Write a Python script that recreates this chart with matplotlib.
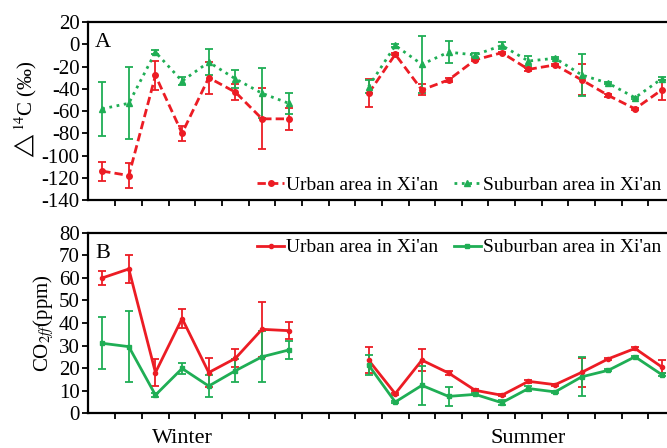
import numpy as np
import matplotlib
matplotlib.use('Agg')
import matplotlib.pyplot as plt
from matplotlib.ticker import FixedLocator
from matplotlib.lines import Line2D

# -------------------- Font settings ---------------------
plt.rcParams['font.family'] = ['Liberation Serif', 'DejaVu Serif']
plt.rcParams['mathtext.fontset'] = 'stix'
plt.rcParams['axes.unicode_minus'] = False

# ================= Data =================
# sample index: 8 winter samples, 12 summer samples
x_winter = np.arange(0, 8)
x_summer = np.arange(10, 22)

# Panel A: delta 14C (permil)
d14c_urban_w = [-114, -118, -28, -80, -30, -43, -67, -67]
d14c_urban_w_err = [8.5, 11, 13, 6.5, 14.5, 7, 27.5, 10]
d14c_sub_w = [-58, -53, -7, -33, -16, -31, -44, -53]
d14c_sub_w_err = [24, 32.5, 1.5, 4, 12, 8, 22.5, 9.5]

d14c_urban_s = [-44, -9, -41, -32, -14, -7.5, -22.5, -18.5, -32, -46, -58, -41]
d14c_urban_s_err = [12.5, 1, 5, 2, 1, 1, 1.5, 1, 14, 1, 1, 9]
d14c_sub_s = [-38, -1, -18, -7, -9.5, -1, -15, -12.5, -27.5, -35, -48, -31]
d14c_sub_s_err = [5.5, 1, 25.5, 10, 1.5, 3.5, 4.5, 1, 19, 1, 1, 1.5]

# Panel B: CO2ff (ppm)
co2_urban_w = [60, 64, 18, 42, 18, 24.3, 37.2, 36.6]
co2_urban_w_err = [3, 6.2, 6, 4.3, 6.5, 4, 12.3, 3.7]
co2_sub_w = [31, 29.5, 8, 19.8, 12, 18.8, 25, 28]
co2_sub_w_err = [11.5, 15.7, 1, 2.4, 5, 5, 11.3, 4.2]

co2_urban_s = [23.5, 8.6, 23.5, 17.8, 10.1, 7.9, 14.1, 12.6, 18.1, 24.1, 28.7, 20.5]
co2_urban_s_err = [5.8, 0.5, 4.8, 1, 0.5, 0.5, 0.7, 0.5, 6.5, 0.5, 0.5, 2.9]
co2_sub_s = [21.3, 4.9, 12.3, 7.4, 8.3, 4.6, 10.9, 9.4, 16.1, 19, 25, 17.1]
co2_sub_s_err = [4.5, 0.5, 8.6, 4.1, 0.5, 1, 1, 0.5, 8.6, 0.5, 0.5, 0.8]

labels = ["Urban area in Xi'an", "Suburban area in Xi'an"]
red = '#ec1c24'
green = '#1fae55'
dash = (0, (3, 1.5))

# ================= Plotting ====================
fig = plt.figure(figsize=(6.67, 4.48), dpi=100)
axA = fig.add_axes([0.132, 0.5536, 0.868, 0.397])
axB = fig.add_axes([0.132, 0.078, 0.868, 0.402])


def draw(ax, xs, y, e, color, ls, marker, ms):
    ax.errorbar(xs, y, yerr=e, color=color, ls=ls, lw=2, marker=marker,
                ms=ms, capsize=3, elinewidth=1.3, capthick=1.3)


def add_legend(ax, styles, loc):
    handles = [Line2D([], [], color=c, ls=ls, lw=2, marker=m, ms=ms)
               for c, ls, m, ms in styles]
    ax.legend(handles, labels, loc=loc, ncol=2, frameon=False, fontsize=14,
              handlelength=1.4, handletextpad=0.1, columnspacing=0.8,
              borderaxespad=0.1, borderpad=0.2)


# Panel A
draw(axA, x_winter, d14c_urban_w, d14c_urban_w_err, red, dash, 'o', 4)
draw(axA, x_winter, d14c_sub_w, d14c_sub_w_err, green, ':', '^', 4)
draw(axA, x_summer, d14c_urban_s, d14c_urban_s_err, red, dash, 'o', 4)
draw(axA, x_summer, d14c_sub_s, d14c_sub_s_err, green, ':', '^', 4)
axA.set_ylim(-140, 20)
axA.set_yticks(np.arange(-140, 21, 20))
axA.set_ylabel('$\\triangle^{14}$C (\u2030)', fontsize=15, labelpad=2)
add_legend(axA, [(red, dash, 'o', 4), (green, ':', '^', 4)], 'lower right')

# Panel B
draw(axB, x_winter, co2_urban_w, co2_urban_w_err, red, '-', 'o', 3)
draw(axB, x_winter, co2_sub_w, co2_sub_w_err, green, '-', 's', 3)
draw(axB, x_summer, co2_urban_s, co2_urban_s_err, red, '-', 'o', 3)
draw(axB, x_summer, co2_sub_s, co2_sub_s_err, green, '-', 's', 3)
axB.set_ylim(0, 80)
axB.set_yticks(np.arange(0, 81, 10))
axB.set_ylabel(r'CO$_{\mathit{2ff}}$(ppm)', fontsize=15, labelpad=2)
add_legend(axB, [(red, '-', 'o', 3), (green, '-', 's', 3)], 'upper right')

for ax, tag in zip([axA, axB], ['A', 'B']):
    ax.set_xlim(-0.53, 21.2)
    ax.xaxis.set_major_locator(FixedLocator(np.arange(0.5, 21.5, 1)))
    ax.set_xticklabels([])
    ax.tick_params(axis='both', direction='out', length=4, width=1.3, labelsize=15, pad=2)
    for s in ['left', 'top', 'bottom']:
        ax.spines[s].set_linewidth(1.6)
    ax.spines['right'].set_visible(False)
    ax.text(0.012, 0.94, tag, transform=ax.transAxes, fontsize=16, va='top', ha='left')

axB.text(3.0, -0.14, 'Winter', transform=axB.get_xaxis_transform(),
         fontsize=16, ha='center', va='center')
axB.text(16.0, -0.14, 'Summer', transform=axB.get_xaxis_transform(),
         fontsize=16, ha='center', va='center')

fig.savefig('out.png', dpi=100)
